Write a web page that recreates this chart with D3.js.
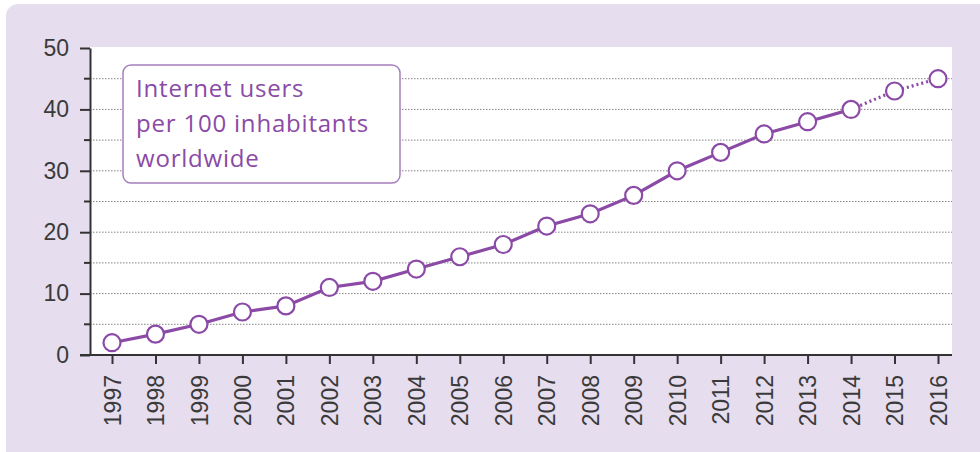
<!DOCTYPE html>
<html><head><meta charset="utf-8">
<script src="https://cdn.jsdelivr.net/npm/d3@7"></script>
<style>body{margin:0;background:#fff;}svg{display:block;}</style>
</head><body>
<svg id="c" width="980" height="452"></svg>
<script>
const years = [1997,1998,1999,2000,2001,2002,2003,2004,2005,2006,2007,2008,2009,2010,2011,2012,2013,2014,2015,2016];
const users = [2,3.4,5,7,8,11,12,14,16,18,21,23,26,30,33,36,38,40,43,45];
const projected = [false,false,false,false,false,false,false,false,false,false,false,false,false,false,false,false,false,false,true,true];
const yTicks = [0,10,20,30,40,50];
const yMinor = [5,15,25,35,45];
const gridVals = [5,10,15,20,25,30,35,40,45];
const titleLines = ["Internet users","per 100 inhabitants","worldwide"];

const svg = d3.select("#c");
const purple = "#8a4aa6";
const font = "'Open Sans', 'DejaVu Sans', sans-serif";
const axisFont = "'Liberation Sans', Arial, sans-serif";

svg.append("rect").attr("x",6).attr("y",4).attr("width",990).attr("height",470).attr("rx",12).attr("fill","#e6ddee");

const x = d3.scalePoint().domain(years).range([112,938]);
const y = d3.scaleLinear().domain([0,50]).range([355,48]);

svg.append("rect").attr("x",90).attr("y",y(50)-1).attr("width",952-90).attr("height",y(0)-y(50)+1).attr("fill","#fff");

// grid
svg.append("g").selectAll("line").data(gridVals).join("line")
  .attr("x1",90).attr("x2",952).attr("y1",d=>y(d)).attr("y2",d=>y(d))
  .attr("stroke","#777").attr("stroke-width",0.9).attr("stroke-dasharray","1.5,1.5");

// y axis
const ya = svg.append("g").attr("transform","translate(90,0)")
  .call(d3.axisLeft(y).tickValues(yTicks).tickSize(10).tickSizeOuter(0).tickPadding(11));
ya.select(".domain").attr("stroke","#333").attr("stroke-width",2);
ya.selectAll(".tick line").attr("stroke","#333").attr("stroke-width",2);
ya.selectAll(".tick text").attr("font-family",axisFont).attr("font-size",23).attr("fill","#3a3a3a");
svg.append("g").selectAll("line").data(yMinor).join("line")
  .attr("x1",84).attr("x2",90).attr("y1",d=>y(d)).attr("y2",d=>y(d)).attr("stroke","#333").attr("stroke-width",2);

// x axis
const xa = svg.append("g").attr("transform",`translate(0,${y(0)})`)
  .call(d3.axisBottom(x).tickSize(9).tickSizeOuter(0).tickPadding(6));
xa.select(".domain").attr("d",`M80,0H952`).attr("stroke","#333").attr("stroke-width",2);
xa.selectAll(".tick line").attr("stroke","#333").attr("stroke-width",2);
xa.selectAll(".tick text").attr("font-family",axisFont).attr("font-size",23).attr("fill","#3a3a3a")
  .attr("transform","rotate(-90)").attr("text-anchor","end").attr("dy","0.35em").attr("x",-20).attr("y",0);

// lines
const pts = years.map((yr,i)=>({yr,v:users[i],p:projected[i]}));
const line = d3.line().x(d=>x(d.yr)).y(d=>y(d.v));
const solid = pts.filter(d=>!d.p);
const dotted = pts.slice(solid.length-1);
svg.append("path").attr("d",line(solid)).attr("fill","none").attr("stroke",purple).attr("stroke-width",3.2);
svg.append("path").attr("d",line(dotted)).attr("fill","none").attr("stroke",purple).attr("stroke-width",3.2).attr("stroke-dasharray","2,3");
svg.append("g").selectAll("circle").data(pts).join("circle")
  .attr("cx",d=>x(d.yr)).attr("cy",d=>y(d.v)).attr("r",8.5)
  .attr("fill","#fff").attr("stroke",purple).attr("stroke-width",2.2);

// title box
svg.append("rect").attr("x",123).attr("y",65).attr("width",277).attr("height",118).attr("rx",8)
  .attr("fill","#fff").attr("stroke","#a57fbe").attr("stroke-width",1.5);
svg.append("g").selectAll("text").data(titleLines).join("text")
  .attr("x",136).attr("y",(d,i)=>97+i*35).text(d=>d)
  .attr("font-family",font).attr("font-size",24).attr("letter-spacing",0.8).attr("fill",purple);
</script>
</body></html>
